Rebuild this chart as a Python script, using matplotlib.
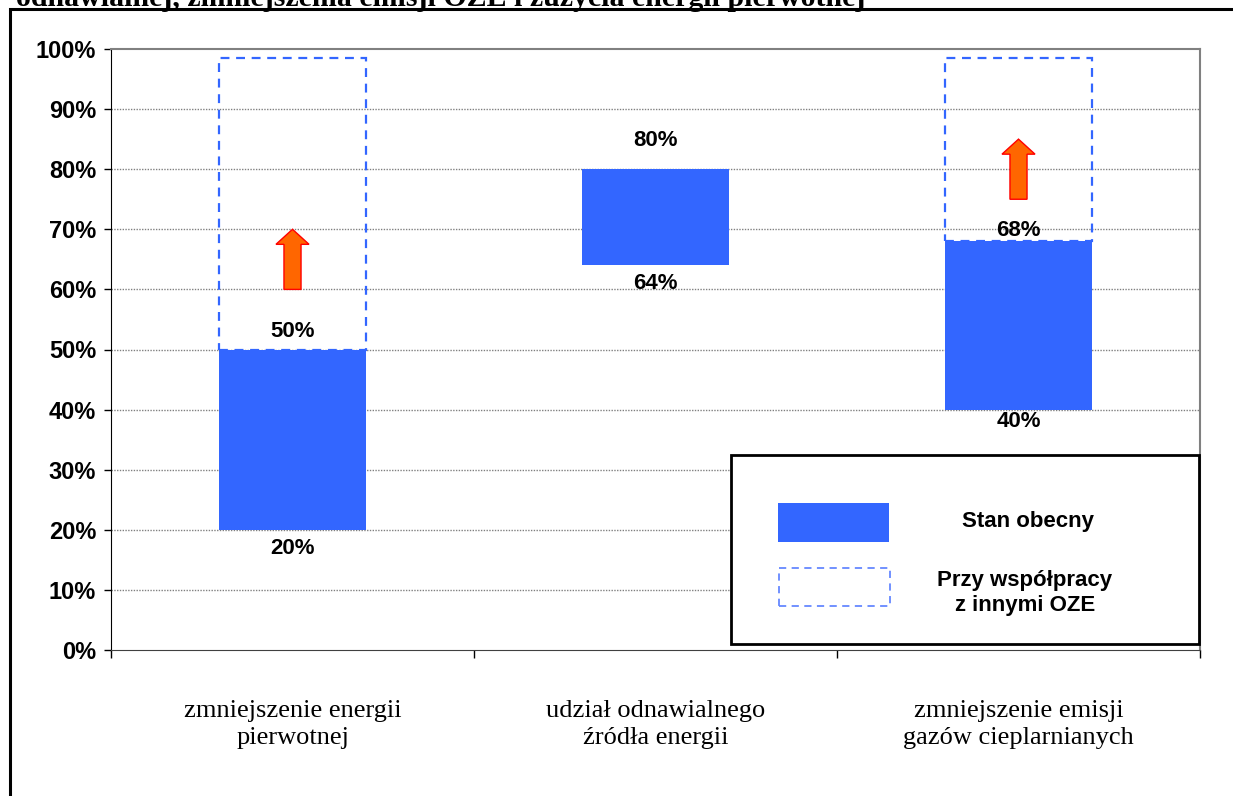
import matplotlib
matplotlib.use("Agg")
import matplotlib.pyplot as plt
from matplotlib.patches import Rectangle, FancyArrow
from matplotlib.ticker import FixedLocator

# ---- data ----
categories = ["zmniejszenie energii\npierwotnej",
              "udział odnawialnego\nźródła energii",
              "zmniejszenie emisji\ngazów cieplarnianych"]
current_low = [20, 64, 40]
current_high = [50, 80, 68]
potential_high = [98.5, None, 98.5]
arrow_from = [60, None, 75]
arrow_to = [70, None, 85]
y_ticks = [0, 10, 20, 30, 40, 50, 60, 70, 80, 90, 100]
y_tick_labels = [f"{v}%" for v in y_ticks]
legend_labels = ["Stan obecny", "Przy współpracy\nz innymi OZE"]
title_text = "odnawialnej, zmniejszenia emisji OZE i zużycia energii pierwotnej"

# ---- styling ----
W, H = 1233, 796
BLUE = "#3366FF"
SANS = ["Liberation Sans", "DejaVu Sans"]
SERIF = ["Liberation Serif", "DejaVu Serif"]
bar_width = 0.405
# label offsets in pixels (low label below, high label above)
low_off = [-19, -18, -12]
high_off = [18, 29, 11]

fig = plt.figure(figsize=(W / 100, H / 100), dpi=100)
fig.patch.set_facecolor("white")

def fx(px):
    return px / W

def fy(py):
    return 1 - py / H

# outer frame (extends beyond figure at right and bottom)
fig.add_artist(Rectangle((fx(10), fy(900)), fx(1300) - fx(10), fy(8.5) - fy(900),
                         transform=fig.transFigure, fill=False, edgecolor="black",
                         linewidth=2.2, clip_on=False))

# clipped title at top (cut off in the reference as well)
fig.text(fx(16), fy(5.5), title_text, fontsize=21.5, fontweight="bold",
         family=SERIF, ha="left", va="baseline")

ax = fig.add_axes([fx(111), fy(650), fx(1200) - fx(111), fy(49) - fy(650)])
ax.set_xlim(-0.5, 2.5)
ax.set_ylim(0, 100)

# grid
for v in y_ticks[1:-1]:
    ax.axhline(v, color="#808080", linestyle=(0, (1, 1)), linewidth=1.0, zorder=0)

xs = range(len(categories))
for i in xs:
    lo, hi = current_low[i], current_high[i]
    ax.bar(i, hi - lo, bottom=lo, width=bar_width, color=BLUE, zorder=3)
    if potential_high[i] is not None:
        ax.add_patch(Rectangle((i - bar_width / 2, hi), bar_width, potential_high[i] - hi,
                               fill=False, edgecolor=BLUE, linewidth=1.6,
                               linestyle=(0, (4, 3)), zorder=2))
    ax.annotate(f"{lo}%", (i, lo), xytext=(0, low_off[i] * 0.72), textcoords="offset points",
                ha="center", va="center", fontsize=16, fontweight="bold", family=SANS, zorder=5)
    ax.annotate(f"{hi}%", (i, hi), xytext=(0, high_off[i] * 0.72), textcoords="offset points",
                ha="center", va="center", fontsize=16, fontweight="bold", family=SANS, zorder=5)
    if arrow_from[i] is not None:
        ax.add_patch(FancyArrow(i, arrow_from[i], 0, arrow_to[i] - arrow_from[i],
                                width=0.047, head_width=0.091, head_length=2.5,
                                length_includes_head=True, facecolor="#FF6600",
                                edgecolor="#FF0000", linewidth=1.0, zorder=4))

# spines
ax.spines["top"].set_color("#808080")
ax.spines["right"].set_color("#808080")
ax.spines["top"].set_linewidth(1.5)
ax.spines["right"].set_linewidth(1.5)
ax.spines["left"].set_color("black")
ax.spines["bottom"].set_color("#404040")

ax.set_yticks(y_ticks)
ax.set_yticklabels(y_tick_labels, fontsize=17, fontweight="bold", family=SANS)
ax.tick_params(axis="y", direction="out", length=5, width=1, pad=5.8)

ax.set_xticks(list(xs))
ax.set_xticklabels(categories, fontsize=19, family=SERIF, linespacing=1.32)
ax.tick_params(axis="x", which="major", length=0, pad=36)
ax.xaxis.set_minor_locator(FixedLocator([-0.5, 0.5, 1.5, 2.5]))
ax.tick_params(axis="x", which="minor", direction="out", length=6, width=1)

# legend box (drawn manually)
fig.add_artist(Rectangle((fx(731), fy(644)), fx(1199) - fx(731), fy(455) - fy(644),
                         transform=fig.transFigure, facecolor="white", edgecolor="black",
                         linewidth=2.0, zorder=10))
fig.add_artist(Rectangle((fx(778), fy(541.5)), fx(889) - fx(778), fy(503) - fy(541.5),
                         transform=fig.transFigure, facecolor=BLUE, edgecolor="none", zorder=11))
fig.add_artist(Rectangle((fx(779), fy(605.5)), fx(890) - fx(779), fy(567.5) - fy(605.5),
                         transform=fig.transFigure, fill=False, edgecolor="#6688FF",
                         linewidth=1.3, linestyle=(0, (4, 3)), zorder=11))
fig.text(fx(1028), fy(522), legend_labels[0], fontsize=16, fontweight="bold", family=SANS,
         ha="center", va="center", zorder=12)
fig.text(fx(1025), fy(593), legend_labels[1], fontsize=16, fontweight="bold", family=SANS,
         ha="center", va="center", linespacing=1.3, zorder=12)

fig.savefig("out.png", dpi=100)
